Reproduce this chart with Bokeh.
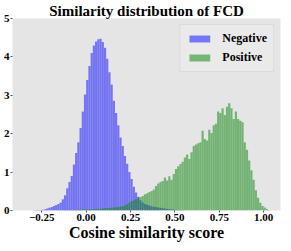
from bokeh.plotting import figure
from bokeh.models import FixedTicker, Range1d
from bokeh.embed import file_html
from bokeh.resources import INLINE
import numpy as np

TITLE = "Similarity distribution of FCD"
X_LABEL = "Cosine similarity score"
BIN_WIDTH = 0.0125

NEG_LABEL = "Negative"
NEG_START = -0.3
neg_density = [
    0.005, 0.01, 0.01, 0.015, 0.02, 0.03, 0.05, 0.07, 0.09, 0.12,
    0.14, 0.17, 0.21, 0.29, 0.40, 0.58, 0.74, 0.90, 1.20, 1.50,
    1.78, 2.15, 2.58, 3.02, 3.40, 3.76, 4.10, 4.30, 4.40, 4.46,
    4.47, 4.39, 4.24, 3.95, 3.60, 3.28, 2.86, 2.54, 2.22, 1.90,
    1.68, 1.42, 1.22, 1.00, 0.82, 0.62, 0.47, 0.36, 0.27, 0.21,
    0.17, 0.15, 0.13, 0.11, 0.10, 0.09, 0.08, 0.07, 0.06, 0.05,
    0.04, 0.035, 0.03, 0.02, 0.015, 0.01, 0.01, 0.005,
]

POS_LABEL = "Positive"
POS_START = -0.2
pos_density = [
    0.003, 0.004, 0.005, 0.006, 0.008, 0.009, 0.01, 0.012, 0.013, 0.015,
    0.017, 0.019, 0.021, 0.024, 0.026, 0.03, 0.032, 0.034, 0.036, 0.04,
    0.043, 0.048, 0.052, 0.058, 0.062, 0.068, 0.072, 0.078, 0.085, 0.09,
    0.10, 0.108, 0.12, 0.14, 0.17, 0.21, 0.25, 0.27, 0.30, 0.33,
    0.35, 0.38, 0.42, 0.45, 0.48, 0.51, 0.55, 0.64, 0.70, 0.74,
    0.77, 0.86, 0.78, 0.89, 0.80, 0.95, 1.08, 1.15, 1.21, 1.27,
    1.38, 1.46, 1.34, 1.52, 1.68, 1.72, 1.75, 1.78, 2.08, 1.86,
    1.82, 2.10, 2.02, 2.22, 2.26, 2.58, 2.54, 2.66, 2.49, 2.70,
    2.79, 2.66, 2.38, 2.58, 2.38, 2.34, 2.30, 1.78, 1.58, 1.30,
    1.05, 0.80, 0.53, 0.33, 0.20, 0.12, 0.08, 0.04, 0.01,
]

x_ticks = [-0.25, 0.0, 0.25, 0.5, 0.75, 1.0]
x_tick_labels = ["\u22120.25", "0.00", "0.25", "0.50", "0.75", "1.00"]
y_ticks = [0, 1, 2, 3, 4, 5]

FONT = "Liberation Serif"

p = figure(width=283, height=243, output_backend="svg", toolbar_location=None,
           x_range=Range1d(-0.415, 1.095), y_range=Range1d(0, 5),
           min_border_left=2, min_border_right=3, min_border_top=0, min_border_bottom=0)

p.background_fill_color = "#e5e5e5"
p.border_fill_color = "white"
p.outline_line_color = None
p.grid.grid_line_color = None

neg_left = NEG_START + BIN_WIDTH * np.arange(len(neg_density))
pos_left = POS_START + BIN_WIDTH * np.arange(len(pos_density))

p.quad(left=neg_left, right=neg_left + BIN_WIDTH, bottom=0, top=neg_density,
       fill_color="blue", fill_alpha=0.5, line_color="white", line_alpha=0.12,
       line_width=0.5, legend_label=NEG_LABEL)
p.quad(left=pos_left, right=pos_left + BIN_WIDTH, bottom=0, top=pos_density,
       fill_color="green", fill_alpha=0.5, line_color="white", line_alpha=0.12,
       line_width=0.5, legend_label=POS_LABEL)

p.title.text = TITLE
p.title.text_font = FONT
p.title.text_font_style = "bold"
p.title.text_font_size = "15px"
p.title.text_color = "black"
p.title.align = "center"
p.title.standoff = 0
p.title.offset = 0

for ax in (p.xaxis[0], p.yaxis[0]):
    ax.axis_line_color = None
    ax.major_tick_in = 0
    ax.major_tick_out = 2
    ax.major_tick_line_color = "#555555"
    ax.minor_tick_line_color = None
    ax.major_label_text_font = FONT
    ax.major_label_text_font_style = "bold"
    ax.major_label_text_font_size = "11px"
    ax.major_label_text_color = "black"
    ax.major_label_standoff = 1

p.xaxis.ticker = FixedTicker(ticks=x_ticks)
p.xaxis.major_label_overrides = {t: l for t, l in zip(x_ticks, x_tick_labels)}
p.yaxis.ticker = FixedTicker(ticks=y_ticks)

p.xaxis.axis_label = X_LABEL
p.xaxis.axis_label_text_font = FONT
p.xaxis.axis_label_text_font_style = "bold"
p.xaxis.axis_label_text_font_size = "16px"
p.xaxis.axis_label_text_color = "black"
p.xaxis.axis_label_standoff = 0

lg = p.legend[0]
lg.location = "top_right"
lg.margin = 6
lg.padding = 6
lg.spacing = 4
lg.glyph_width = 26
lg.glyph_height = 9
lg.label_standoff = 10
lg.label_text_font = FONT
lg.label_text_font_style = "bold"
lg.label_text_font_size = "12px"
lg.label_text_color = "black"
lg.label_height = 14
lg.background_fill_color = "#ebebeb"
lg.background_fill_alpha = 0.8
lg.border_line_color = "#cccccc"
lg.border_line_width = 1

open("out.html", "w").write(file_html(p, INLINE))
